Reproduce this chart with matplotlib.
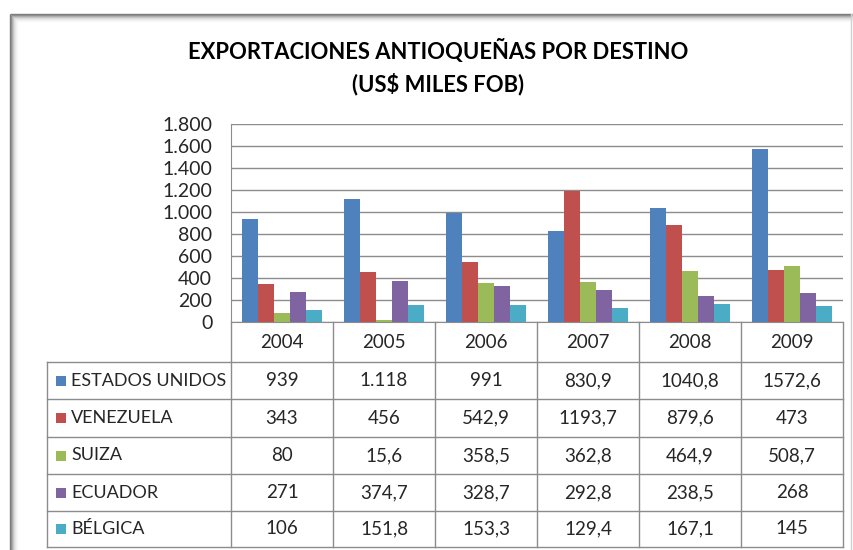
import matplotlib
matplotlib.use('Agg')
import matplotlib.pyplot as plt
from matplotlib import transforms
from matplotlib.patches import Rectangle

# ---------------- data ----------------
years = ['2004', '2005', '2006', '2007', '2008', '2009']
series_names = ['ESTADOS UNIDOS', 'VENEZUELA', 'SUIZA', 'ECUADOR', 'BÉLGICA']
estados_unidos = [939, 1118, 991, 830.9, 1040.8, 1572.6]
venezuela = [343, 456, 542.9, 1193.7, 879.6, 473]
suiza = [80, 15.6, 358.5, 362.8, 464.9, 508.7]
ecuador = [271, 374.7, 328.7, 292.8, 238.5, 268]
belgica = [106, 151.8, 153.3, 129.4, 167.1, 145]
table_labels = [
    ['939', '1.118', '991', '830,9', '1040,8', '1572,6'],
    ['343', '456', '542,9', '1193,7', '879,6', '473'],
    ['80', '15,6', '358,5', '362,8', '464,9', '508,7'],
    ['271', '374,7', '328,7', '292,8', '238,5', '268'],
    ['106', '151,8', '153,3', '129,4', '167,1', '145'],
]
y_ticks = [0, 200, 400, 600, 800, 1000, 1200, 1400, 1600, 1800]
y_tick_labels = ['0', '200', '400', '600', '800', '1.000', '1.200', '1.400', '1.600', '1.800']
title = 'EXPORTACIONES ANTIOQUEÑAS POR DESTINO\n(US$ MILES FOB)'
colors = ['#4F81BD', '#C0504D', '#9BBB59', '#8064A2', '#4BACC6']
series = [estados_unidos, venezuela, suiza, ecuador, belgica]

# ---------------- layout ----------------
W, H = 854, 550
plt.rcParams['font.family'] = ['Lato', 'DejaVu Sans']
fig = plt.figure(figsize=(W / 100, H / 100), dpi=100)
fig.patch.set_facecolor('white')

def fx(px):
    return px / W

def fy(py):
    return 1 - py / H

# frame (chart area with soft shadow)
ov = fig.add_axes([0, 0, 1, 1])
ov.set_xlim(0, W)
ov.set_ylim(H, 0)
ov.axis('off')
shadow = [(0, '#7a7a7a'), (1, '#8a8a8a'), (2, '#a8a8a8'), (3, '#c4c4c4'),
          (4, '#d8d8d8'), (5, '#e6e6e6'), (6, '#f0f0f0'), (7, '#f7f7f7')]
for d, c in shadow:
    ov.plot([10 + d, 10 + d], [14 + d, H], color=c, lw=1.0, solid_capstyle='butt')
    ov.plot([10 + d, 852], [14 + d, 14 + d], color=c, lw=1.0, solid_capstyle='butt')
ov.plot([851, 851], [14, H], color='#d0d0d0', lw=1.0)

txt = '#262626'
# title
fig.text(fx(438), fy(67), title, ha='center', va='center', fontsize=15.8,
         fontweight='bold', color='black', linespacing=1.5)

# plot axes
left, right, top, zero = 231, 843, 124, 322
ax = fig.add_axes([fx(left), fy(zero), fx(right - left), (zero - top) / H])
ax.set_facecolor('none')
ax.set_xlim(-0.5, len(years) - 0.5)
ax.set_ylim(0, 1800)
ax.set_yticks(y_ticks)
ax.set_yticklabels(y_tick_labels, fontsize=14, color=txt)
ax.tick_params(axis='y', length=0, pad=13.5)
ax.set_xticks([])
ax.grid(axis='y', color='#8c8c8c', lw=1.0)
ax.set_axisbelow(True)
for s in ['top', 'right']:
    ax.spines[s].set_visible(False)
ax.spines['left'].set_color('#8c8c8c')
ax.spines['bottom'].set_color('#8c8c8c')

bw = 0.155
n = len(series)
for k, (vals, col) in enumerate(zip(series, colors)):
    xs = [i + (k - (n - 1) / 2) * bw for i in range(len(years))]
    ax.bar(xs, vals, width=bw, color=col, edgecolor='none', zorder=3)

# data table (x in data coords, y in figure fraction)
tr = transforms.blended_transform_factory(ax.transData, fig.transFigure)
row_edges = [322, 362, 399, 437, 474, 511, 547]
label_left = -0.5 - (231 - 47) / 102.0
gc = '#8c8c8c'
for j, py in enumerate(row_edges[1:]):
    ax.plot([label_left, len(years) - 0.5], [fy(py), fy(py)], color=gc, lw=1.0,
            transform=tr, clip_on=False)
for b in range(len(years) + 1):
    xb = b - 0.5
    ax.plot([xb, xb], [fy(row_edges[0]), fy(row_edges[-1])], color=gc, lw=1.0,
            transform=tr, clip_on=False)
ax.plot([label_left, label_left], [fy(row_edges[1]), fy(row_edges[-1])], color=gc,
        lw=1.0, transform=tr, clip_on=False)

yr_c = (row_edges[0] + row_edges[1]) / 2
for i, y in enumerate(years):
    ax.text(i, fy(yr_c), y, transform=tr, ha='center', va='center', fontsize=13.5,
            color=txt, clip_on=False)

for r, name in enumerate(series_names):
    cy = (row_edges[r + 1] + row_edges[r + 2]) / 2
    fig.patches.append(Rectangle((fx(56), fy(cy + 5)), fx(10), 10 / H,
                                 transform=fig.transFigure, facecolor=colors[r],
                                 edgecolor='none'))
    fig.text(fx(71), fy(cy), name, ha='left', va='center', fontsize=13,
             color=txt)
    for i, lab in enumerate(table_labels[r]):
        ax.text(i, fy(cy), lab, transform=tr, ha='center', va='center',
                fontsize=13.5, color=txt, clip_on=False)

fig.savefig('out.png', dpi=100, facecolor='white')
